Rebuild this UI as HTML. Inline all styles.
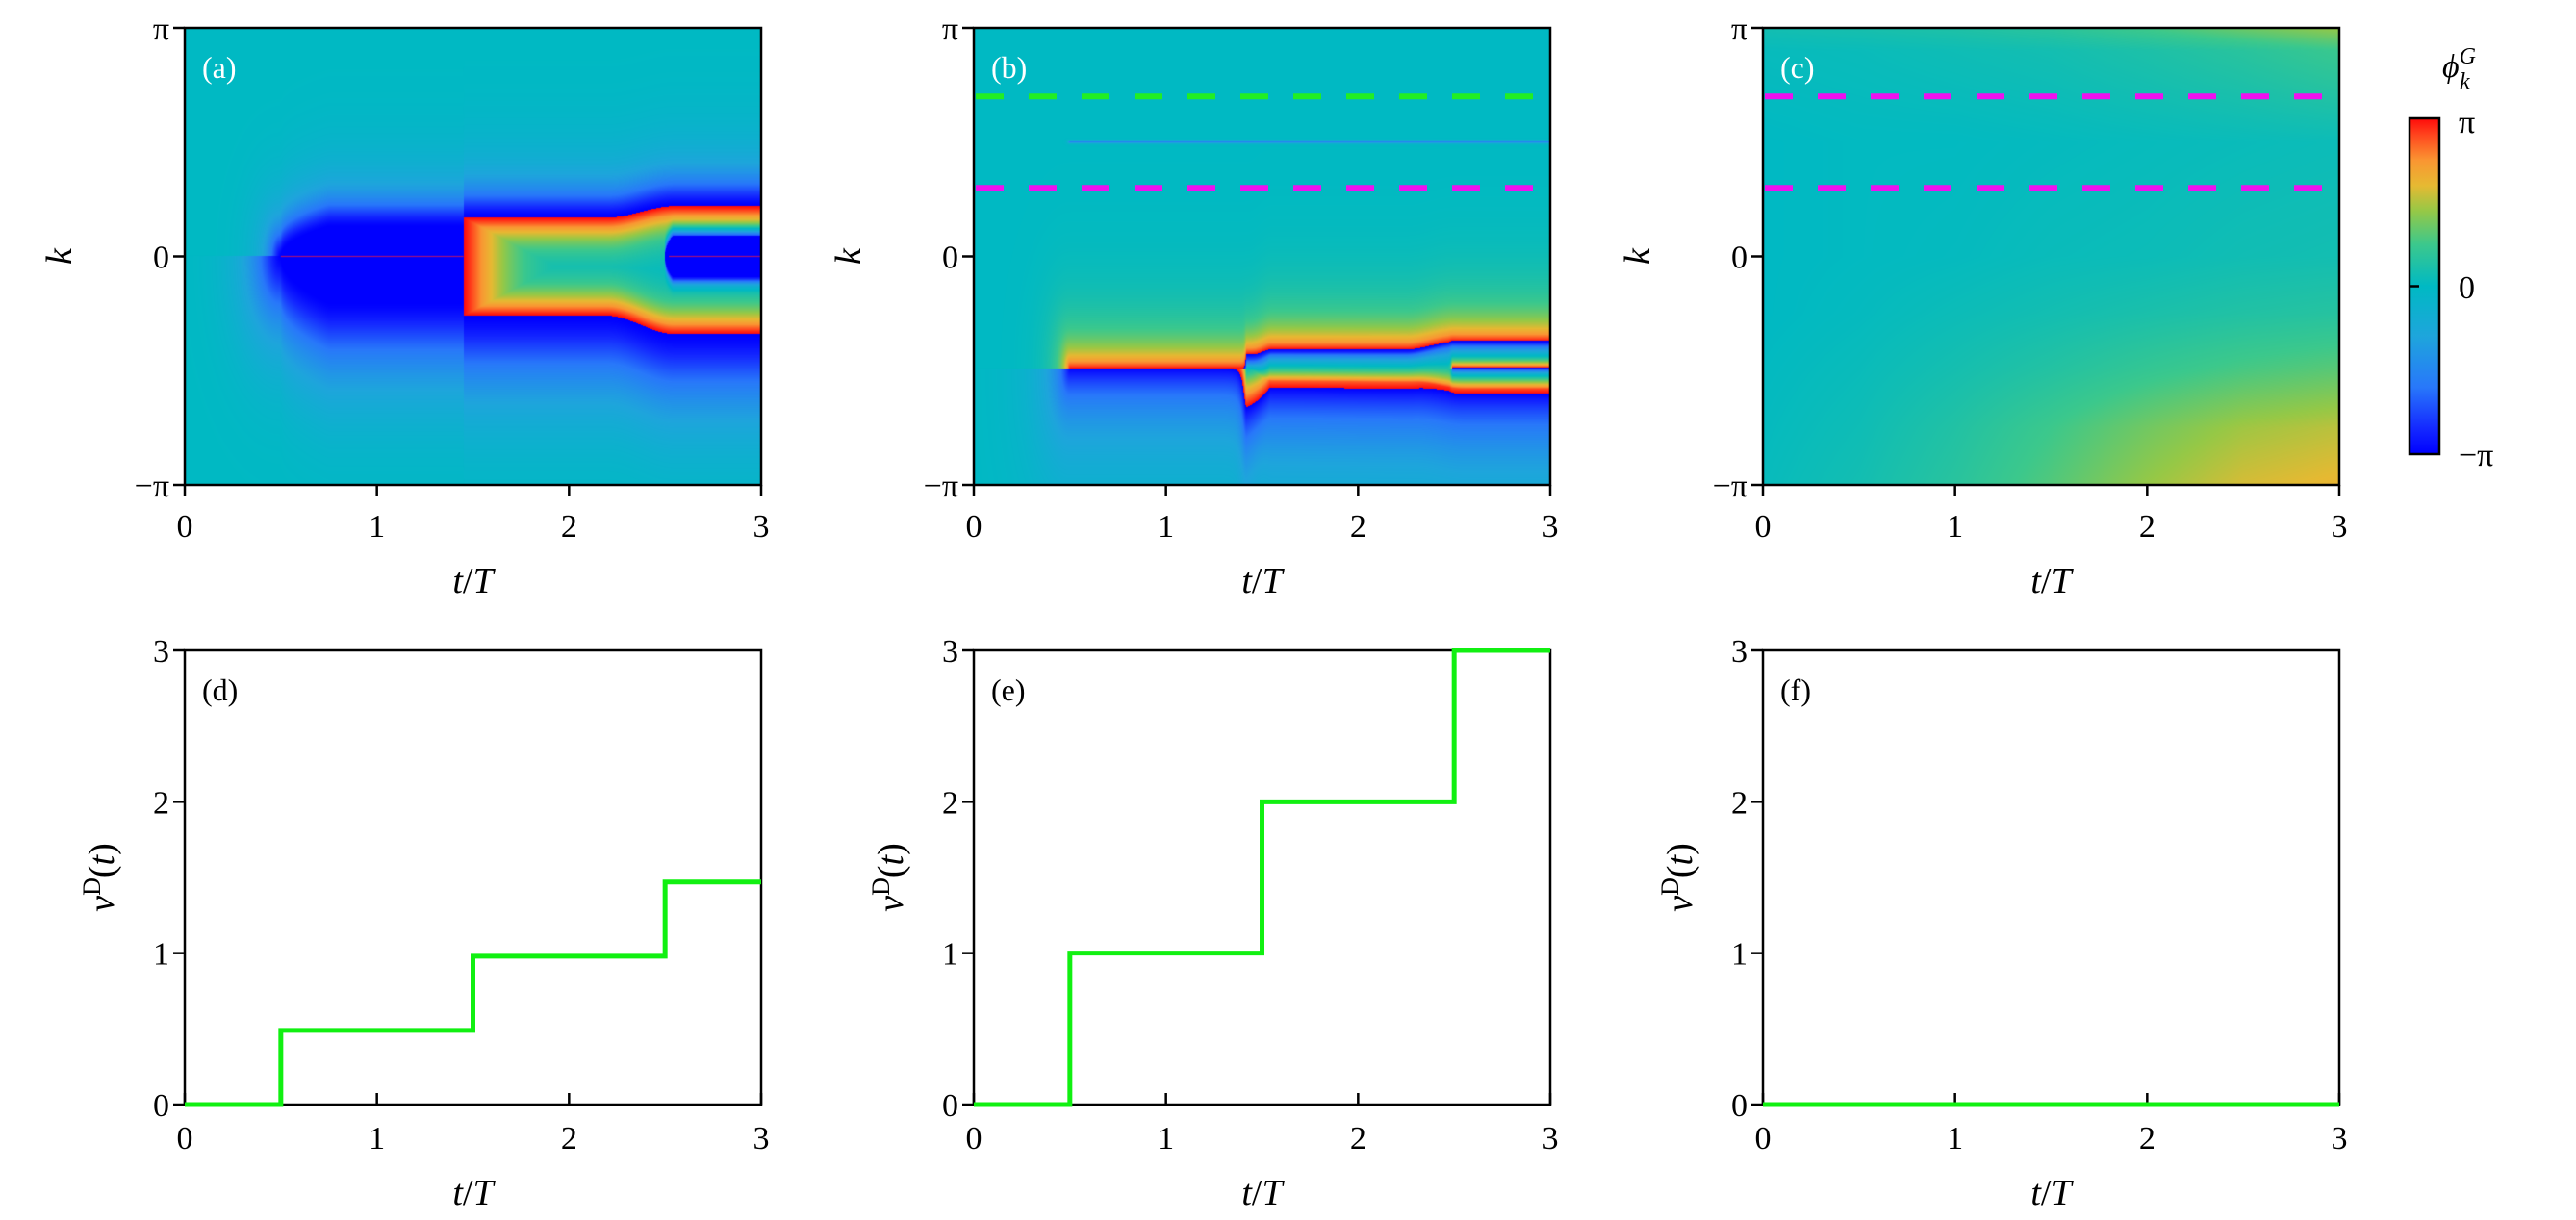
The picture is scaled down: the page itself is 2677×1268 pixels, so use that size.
<!DOCTYPE html>
<html><head><meta charset="utf-8"><style>
html,body{margin:0;padding:0;background:#fff;}
#root{position:relative;width:2677px;height:1268px;overflow:hidden;background:#fff;}
canvas{position:absolute;}
svg{position:absolute;left:0;top:0;}
text{font-family:"Liberation Serif",serif;fill:#000;}
</style></head><body>
<div id="root">
<canvas id="ca" width="599" height="475" style="left:192px;top:29px"></canvas>
<canvas id="cb" width="599" height="475" style="left:1012px;top:29px"></canvas>
<canvas id="cc" width="599" height="475" style="left:1832px;top:29px"></canvas>
<svg id="ov" width="2677" height="1268"></svg>
</div>
<script>
// ---------- data ----------
const cmapPos = [-1,-0.85,-0.6,-0.3,0,0.25,0.45,0.6,0.75,0.9,1];
const cmapCol = [[0,0,255],[20,40,255],[40,120,250],[30,165,220],[0,185,195],[60,200,140],[150,200,70],[230,185,50],[250,150,50],[255,70,30],[255,10,10]];
// panel (a): core band (k/pi), ring edges, inner core
const coreA_t = [0.5,1.45];
const coreA_hi = 0.13, coreA_lo = -0.2;
const ringA_t0 = 1.45;
const ringA_kt = [1.45,2.2,2.55,3];
const ringA_top = [0.17,0.17,0.22,0.22];
const ringA_bot = [-0.26,-0.26,-0.34,-0.34];
const innerA_t0 = 2.5, innerA_w = 0.09;
// panel (b) phase-defect lines
const linesB_type = ['core','jumpUp','jumpUp','jumpUp'];
const linesB_t0 = [0.5,0.5,1.42,2.49];
const linesB_kt = [[0,3],[0,1.42,1.55,2.25,2.5,3],[1.42,1.55,2.3,2.55,3],[0,3]];
const linesB_kv = [[0.5,0.5],[-0.49,-0.49,-0.42,-0.42,-0.38,-0.38],[-0.49,-0.545,-0.55,-0.58,-0.58],[-0.49,-0.49]];
const linesB_sa = [0.004,0.12,0.07,0.04];
const linesB_sb = [0.004,0.25,0.25,0.03];
const linesB_sbLate = [0.004,0.06,0.3,0.03];
const linesB_p = [1,0.9,1,1];
const linesB_l = [0.5,2.5,15,8];
const splitB_t = 1.42;
// panel (c) smooth phase grid (phase/pi)
const gridC_t = [0,0.5,1,1.5,2,2.5,3];
const gridC_k = [-1,-0.75,-0.5,-0.25,0,0.5,0.9,1];
const gridC_v = [
 [0.03,0.08,0.17,0.3,0.45,0.57,0.62],
 [0.02,0.06,0.14,0.25,0.37,0.47,0.52],
 [0.01,0.04,0.09,0.15,0.22,0.28,0.32],
 [0,0.02,0.05,0.08,0.11,0.14,0.16],
 [0,0.01,0.02,0.04,0.05,0.07,0.08],
 [0,0.01,0.01,0.02,0.03,0.04,0.05],
 [0.03,0.04,0.06,0.08,0.12,0.17,0.24],
 [0.08,0.1,0.13,0.18,0.26,0.36,0.45]];
const dashB_k = [0.7,0.3];
const dashB_col = ['#22ee22','#ee11ee'];
const dashC_k = [0.7,0.3];
const stepT = [0,0.5,1.5,2.5,3];
const stepD = [0,0.49,0.98,1.47];
const stepE = [0,1,2,3];
const stepF = [0,0,0,0];
const xTicks = [0,1,2,3];
const yTicksBottom = [0,1,2,3];

// ---------- heatmaps ----------
function cmap(v){
  v=Math.max(-1,Math.min(1,v));
  for(let i=1;i<cmapPos.length;i++){
    if(v<=cmapPos[i]){const a=(v-cmapPos[i-1])/(cmapPos[i]-cmapPos[i-1]);const c0=cmapCol[i-1],c1=cmapCol[i];
      return [c0[0]+(c1[0]-c0[0])*a,c0[1]+(c1[1]-c0[1])*a,c0[2]+(c1[2]-c0[2])*a];}
  }
  return cmapCol[cmapCol.length-1];
}
function interp(xs,ys,x){
  if(x<=xs[0])return ys[0]; if(x>=xs[xs.length-1])return ys[ys.length-1];
  for(let i=1;i<xs.length;i++) if(x<=xs[i]){const a=(x-xs[i-1])/(xs[i]-xs[i-1]);const s=a*a*(3-2*a);return ys[i-1]+(ys[i]-ys[i-1])*s;}
}
function wrap(p){return ((p+1)%2+2)%2-1;}
function render(id,f){
  const c=document.getElementById(id),ctx=c.getContext('2d');
  const W=c.width,H=c.height,img=ctx.createImageData(W,H);
  for(let y=0;y<H;y++){const k=1-2*(y+0.5)/H;
    for(let x=0;x<W;x++){const t=3*(x+0.5)/W;
      const col=cmap(wrap(f(t,k))),o=(y*W+x)*4;
      img.data[o]=col[0];img.data[o+1]=col[1];img.data[o+2]=col[2];img.data[o+3]=255;}}
  ctx.putImageData(img,0,0);
}
function halo(d,up){
  const e1=Math.exp(-Math.pow(d/(up?0.12:0.22),1.5));
  const e2=(up?0.25:0.4)*Math.exp(-Math.pow(d/(up?0.35:0.5),2));
  return -(e1+(1-e1)*e2);
}
// panel (a)
function phaseA(t,k){
  let p=0;
  if(t<ringA_t0){
    const g=t<coreA_t[0]?0:Math.sqrt(Math.min(1,(t-coreA_t[0])/0.25));
    const hi=coreA_hi*g, lo=coreA_lo*g;
    let d=k>hi?k-hi:(k<lo?lo-k:0);
    const lt=t<coreA_t[0]?(coreA_t[0]-t)*2:0;
    d=Math.sqrt(d*d+lt*lt);
    p=halo(d,k>0);
  } else {
    const T=interp(ringA_kt,ringA_top,t),B=interp(ringA_kt,ringA_bot,t);
    if(k<T&&k>B){
      const dIn=Math.min(T-k,k-B,(t-ringA_t0)*0.45);
      p=Math.exp(-Math.pow(dIn/0.11,1.3));
      if(t>innerA_t0){
        const w=innerA_w*Math.sqrt(Math.min(1,(t-innerA_t0)/0.04));
        const dI=Math.abs(k)-w;
        if(dI<0)p=-1; else p-=Math.exp(-Math.pow(dI/0.035,1.5));
      }
    } else {
      const dOut=k>=T?k-T:B-k;
      p=halo(dOut,k>0);
    }
  }
  return p;
}
render('ca',phaseA);
// panel (b)
function phaseB(t,k){
  let p=0;
  const late=Math.max(0,Math.min(1,(t-splitB_t)/0.12));
  for(let i=0;i<linesB_type.length;i++){
    const kl=interp(linesB_kt[i],linesB_kv[i],t);
    const d=k-kl; let dt=0;
    if(t<linesB_t0[i])dt=linesB_t0[i]-t;
    const dd=Math.sqrt(d*d+(linesB_l[i]*dt)*(linesB_l[i]*dt));
    const sb=linesB_sb[i]+(linesB_sbLate[i]-linesB_sb[i])*late;
    const s=d>=0?linesB_sa[i]:sb;
    const e=Math.exp(-Math.pow(dd/s,linesB_p[i]));
    if(linesB_type[i]==='core')p-=0.7*e; else p+=d>=0?e:-e;
  }
  return p;
}
render('cb',phaseB);
// panel (c)
function phaseC(t,k){
  let r=0;while(r<gridC_k.length-2&&k>gridC_k[r+1])r++;
  const a=Math.max(0,Math.min(1,(k-gridC_k[r])/(gridC_k[r+1]-gridC_k[r])));
  let cI=Math.min(gridC_t.length-2,Math.floor(t/0.5));const b=(t-gridC_t[cI])/0.5;
  const v00=gridC_v[r][cI],v01=gridC_v[r][cI+1],v10=gridC_v[r+1][cI],v11=gridC_v[r+1][cI+1];
  return (v00*(1-b)+v01*b)*(1-a)+(v10*(1-b)+v11*b)*a;
}
render('cc',phaseC);

// ---------- SVG overlay ----------
const NS='http://www.w3.org/2000/svg';
const svg=document.getElementById('ov');
function el(tag,attrs,parent,txt){const e=document.createElementNS(NS,tag);for(const a in attrs)e.setAttribute(a,attrs[a]);if(txt!==undefined)e.textContent=txt;(parent||svg).appendChild(e);return e;}
const PX=[192,1012,1832],PW=599;
const TOP={y:29,h:475},BOT={y:676,h:472};
const letters=['a','b','c','d','e','f'];

function tlabel(cx,y){
  const t=el('text',{x:cx,y:y,'font-size':38,'text-anchor':'middle'});
  
  
  el('tspan',{'font-style':'italic'},t,'t');
  el('tspan',{},t,'/');
  el('tspan',{'font-style':'italic'},t,'T');
}
(function(){
  const sx=v=>PX[0]+v/3*PW, y=TOP.y+TOP.h/2;
  [[0.5,1.45],[2.52,3]].forEach(([a,b])=>{
    const ln=el('line',{x1:sx(a),x2:sx(b),y1:y,y2:y,stroke:'#a01080','stroke-width':1.5,opacity:0.8});
    
    
  });
})();
for(let p=0;p<3;p++){
  const x0=PX[p],y0=TOP.y,h=TOP.h;
  const sx=v=>x0+v/3*PW, sy=v=>y0+(1-v)/2*h;
  const g=el('g',{});
  
  
  if(p>0){
    const ks=p===1?dashB_k:dashC_k;
    ks.forEach((kv,i)=>{
      const ln=el('line',{x1:x0+2,x2:x0+PW-2,y1:sy(kv),y2:sy(kv),stroke:p===1?dashB_col[i]:'#ee11ee','stroke-width':6,'stroke-dasharray':'29 26'},g);
      
      
    });
  }
  const fr=el('rect',{x:x0,y:y0,width:PW,height:h,fill:'none',stroke:'#000','stroke-width':2.5},g);
  
  
  xTicks.forEach(v=>{el('line',{x1:sx(v),x2:sx(v),y1:y0+h,y2:y0+h+12,stroke:'#000','stroke-width':2.5},g);
    const tx=el('text',{x:sx(v),y:y0+h+54,'font-size':34,'text-anchor':'middle'},g,String(v));
    
    });
  [[1,'π'],[0,'0'],[-1,'−π']].forEach(([v,s])=>{el('line',{x1:x0-12,x2:x0,y1:sy(v),y2:sy(v),stroke:'#000','stroke-width':2.5},g);
    const tx=el('text',{x:x0-16,y:sy(v)+12,'font-size':34,'text-anchor':'end'},g,s);
    
    });
  const kl=el('text',{x:0,y:0,'font-size':38,'font-style':'italic','text-anchor':'middle',transform:`translate(${x0-118},${sy(0)}) rotate(-90)`},g,'k');
  
  
  tlabel(x0+PW/2,616);
  const pl=el('text',{x:x0+18,y:y0+52,'font-size':32,style:'fill:#fff'},g,'('+letters[p]+')');
  
  
}
const defs=el('defs',{});
const lg=el('linearGradient',{id:'cbg',x1:0,y1:1,x2:0,y2:0},defs);
cmapPos.forEach((v,i)=>{const c=cmapCol[i];el('stop',{offset:(v+1)/2,'stop-color':`rgb(${c[0]},${c[1]},${c[2]})`},lg);});
const cb=el('rect',{x:2504,y:123,width:31,height:349,fill:'url(#cbg)',stroke:'#000','stroke-width':2.5});


el('line',{x1:2504,x2:2514,y1:297.5,y2:297.5,stroke:'#000','stroke-width':2.5});
[['π',138],['0',310],['−π',484]].forEach(([s,y])=>{const t=el('text',{x:2555,y:y,'font-size':34},svg,s);
  
  });
const cbt=el('text',{x:2538,y:80,'font-size':34,'font-style':'italic'});


el('tspan',{},cbt,'ϕ');
el('tspan',{dy:-14,'font-size':24},cbt,'G');
el('tspan',{dx:-17,dy:26,'font-size':24},cbt,'k');

const steps=[stepD,stepE,stepF];
for(let p=0;p<3;p++){
  const x0=PX[p],y0=BOT.y,h=BOT.h;
  const sx=v=>x0+v/3*PW, sy=v=>y0+h-v/3*h;
  const g=el('g',{});
  
  
  const fr=el('rect',{x:x0,y:y0,width:PW,height:h,fill:'none',stroke:'#000','stroke-width':2.5},g);
  
  
  xTicks.forEach(v=>{el('line',{x1:sx(v),x2:sx(v),y1:y0+h,y2:y0+h-12,stroke:'#000','stroke-width':2.5},g);
    const tx=el('text',{x:sx(v),y:y0+h+46,'font-size':34,'text-anchor':'middle'},g,String(v));
    
    });
  yTicksBottom.forEach(v=>{el('line',{x1:x0-12,x2:x0,y1:sy(v),y2:sy(v),stroke:'#000','stroke-width':2.5},g);
    const tx=el('text',{x:x0-16,y:sy(v)+12,'font-size':34,'text-anchor':'end'},g,String(v));
    
    });
  const vals=steps[p];
  let d='';
  for(let i=0;i<vals.length;i++){
    d+=(i===0?'M':'L')+sx(stepT[i])+','+sy(vals[i])+' L'+sx(stepT[i+1])+','+sy(vals[i]);
  }
  const path=el('path',{d:d,fill:'none',stroke:'#11f011','stroke-width':5},g);
  
  
  const yl=el('text',{x:0,y:0,'font-size':38,'text-anchor':'middle',transform:`translate(${x0-74},${y0+236}) rotate(-90)`},g);
  
  
  el('tspan',{'font-style':'italic'},yl,'ν');
  el('tspan',{dy:-14,'font-size':26},yl,'D');
  el('tspan',{dy:14},yl,'(');
  el('tspan',{'font-style':'italic'},yl,'t');
  el('tspan',{},yl,')');
  tlabel(x0+PW/2,1252);
  const pl=el('text',{x:x0+18,y:y0+52,'font-size':32},g,'('+letters[p+3]+')');
  
  
}
</script>
</body></html>
